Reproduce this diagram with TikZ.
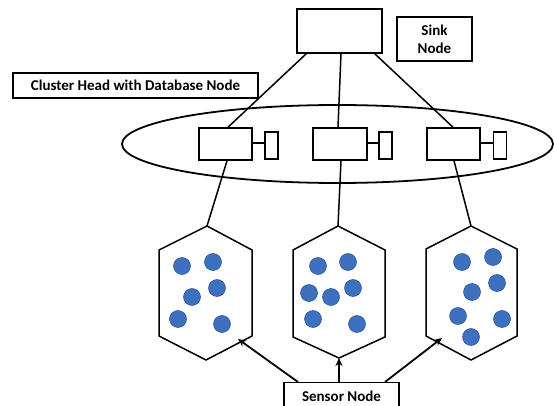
\documentclass[tikz,border=0pt]{standalone}
\usepackage{fontspec}
\setmainfont{Carlito}
\usetikzlibrary{shapes.geometric,arrows.meta}
\definecolor{dotblue}{RGB}{62,112,192}
\definecolor{dotedge}{RGB}{40,80,150}
\tikzset{
  box/.style={draw, line width=1.6pt, fill=white, inner sep=0pt},
  lbl/.style={draw, line width=1.4pt, fill=white, inner sep=0pt, align=center, font=\fontsize{15}{18}\selectfont\bfseries},
  link/.style={line width=1.5pt},
  hex/.style={line width=1.5pt, fill=white},
  dot/.style={circle, draw=dotedge, fill=dotblue, line width=0.5pt, minimum size=17pt, inner sep=0pt},
  arr/.style={line width=1.8pt, -{Stealth[length=8pt,width=7pt]}}
}
\begin{document}
\begin{tikzpicture}[x=1pt,y=-1pt]
\useasboundingbox (0,0) rectangle (554,406);
% ellipse
\node[ellipse, draw, line width=1.8pt, minimum width=431pt, minimum height=78pt, inner sep=0pt] (ring) at (337.5,144) {};
% sink
\node[box, minimum width=85pt, minimum height=44pt] (sink) at (339.5,31) {};
\node[lbl, minimum width=75pt, minimum height=44pt] (sinklbl) at (434.5,39) {Sink\\Node};
\node[lbl, minimum width=245pt, minimum height=25pt] (chlbl) at (135.5,85.5) {Cluster Head with Database Node};
% cluster heads
\node[box, minimum width=53pt, minimum height=32pt] (ch1) at (225.5,144) {};
\node[box, minimum width=13pt, minimum height=27pt] (db1) at (271.5,145.5) {};
\node[box, minimum width=54pt, minimum height=32pt] (ch2) at (340,144) {};
\node[box, minimum width=13pt, minimum height=27pt] (db2) at (385.5,145.5) {};
\node[box, minimum width=53pt, minimum height=32pt] (ch3) at (453.5,144) {};
\node[box, minimum width=13pt, minimum height=27pt] (db3) at (500,145.5) {};
\draw[link] (ch1.east |- 0,143) -- (db1.west |- 0,143);
\draw[link] (ch2.east |- 0,143) -- (db2.west |- 0,143);
\draw[link] (ch3.east |- 0,143) -- (db3.west |- 0,143);
% sink links
\draw[link] ([xshift=10pt]sink.south west) -- ([xshift=2.5pt]ch1.north);
\draw[link] ([xshift=1.5pt]sink.south) -- ([xshift=-2pt]ch2.north);
\draw[link] ([xshift=-8pt]sink.south east) -- ([xshift=-0.5pt]ch3.north);
% hexagons
\coordinate (h1t) at (207,226); \coordinate (h1b) at (206,360); \coordinate (h1r) at (238,339);
\coordinate (h2t) at (338,226); \coordinate (h2b) at (339,358);
\coordinate (h3t) at (471,226); \coordinate (h3b) at (471,360); \coordinate (h3l) at (442,338);
\draw[hex] (h1t) -- (252,250) -- (252,336) -- (h1b) -- (159,336) -- (159,250) -- cycle;
\draw[hex] (h2t) -- (385,250) -- (385,337) -- (h2b) -- (293,337) -- (293,250) -- cycle;
\draw[hex] (h3t) -- (517,249) -- (517,336) -- (h3b) -- (426,336) -- (426,249) -- cycle;
\draw[link] ([xshift=1.5pt]ch1.south) -- (h1t);
\draw[link] ([xshift=1pt]ch2.south) -- (h2t);
\draw[link] ([xshift=0.5pt]ch3.south) -- (h3t);
% dots
\node[dot] (a1) at (182,266) {};
\node[dot] (a2) at (213,262) {};
\node[dot] (a3) at (217,288) {};
\node[dot] (a4) at (192,297) {};
\node[dot] (a5) at (178,319) {};
\node[dot] (a6) at (222,324) {};
\node[dot] (b1) at (318,266) {};
\node[dot] (b2) at (348,262) {};
\node[dot] (b3) at (353,288) {};
\node[dot] (b4) at (309,293) {};
\node[dot] (b5) at (331,297) {};
\node[dot] (b6) at (313,319) {};
\node[dot] (b7) at (357,324) {};
\node[dot] (c1) at (462,262) {};
\node[dot] (c2) at (493,257) {};
\node[dot] (c3) at (472,292) {};
\node[dot] (c4) at (497,283) {};
\node[dot] (c5) at (458,316) {};
\node[dot] (c6) at (502,319) {};
\node[dot] (c7) at (471,337) {};
% sensor
\node[lbl, minimum width=115pt, minimum height=28pt, anchor=north] (sensor) at (341.5,382) {\raisebox{-3pt}{Sensor Node}};
\draw[arr] ([xshift=-43.5pt]sensor.north) -- (h1r);
\draw[arr] ([xshift=-2.5pt]sensor.north) -- (h2b);
\draw[arr] ([xshift=43.5pt]sensor.north) -- (h3l);
\end{tikzpicture}
\end{document}
